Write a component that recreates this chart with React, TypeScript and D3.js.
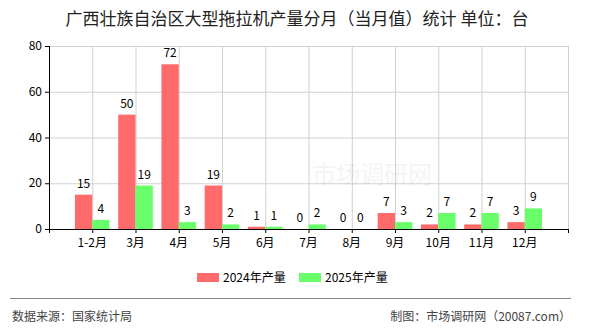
import React from "react";
import * as d3 from "d3";

const CATEGORIES = ["1-2月", "3月", "4月", "5月", "6月", "7月", "8月", "9月", "10月", "11月", "12月"];
const PROD_2024 = [15, 50, 72, 19, 1, 0, 0, 7, 2, 2, 3];
const PROD_2025 = [4, 19, 3, 2, 1, 2, 0, 3, 7, 7, 9];
const Y_TICKS = [0, 20, 40, 60, 80];
const SERIES = [
  { name: "2024年产量", color: "#ff6a6a", values: PROD_2024 },
  { name: "2025年产量", color: "#6aff6a", values: PROD_2025 },
];

const W = 590;
const H = 330;
const M = { top: 46, right: 22, bottom: 101, left: 49 };
const FONT = "'Noto Sans CJK SC', 'DejaVu Sans', sans-serif";

const App: React.FC = () => {
  const x0 = M.left;
  const x1 = W - M.right;
  const yTop = M.top;
  const yBot = H - M.bottom;

  const x = d3.scalePoint<string>().domain(CATEGORIES).range([x0, x1]).padding(1);
  const y = d3.scaleLinear().domain([0, 80]).range([yBot, yTop]);
  const step = x.step();
  const barW = step * 0.4;

  return (
    <div style={{ position: "absolute", left: 0, top: 0 }}>
      <svg width={W} height={H} style={{ display: "block", fontFamily: FONT }}>
        <rect width={W} height={H} fill="#fff" />
        <text x={297} y={25} textAnchor="middle" fontSize={17} fill="#222">
          广西壮族自治区大型拖拉机产量分月（当月值）统计 单位：台
        </text>

        {/* grid */}
        {Y_TICKS.filter(t => t > 0).map(t => (
          <line key={`gy${t}`} x1={x0} x2={x1} y1={y(t) + 0.5} y2={y(t) + 0.5} stroke="#d0d0d0" />
        ))}
        {CATEGORIES.map(c => (
          <line key={`gx${c}`} x1={x(c)! + 0.5} x2={x(c)! + 0.5} y1={yTop} y2={yBot} stroke="#d0d0d0" />
        ))}
        <line x1={x1 + 0.5} x2={x1 + 0.5} y1={yTop} y2={yBot} stroke="#d0d0d0" />

        {/* watermark */}
        <text x={372} y={183} textAnchor="middle" fontSize={24} fill="#000" opacity={0.04}>
          市场调研网
        </text>

        {/* bars */}
        {SERIES.map((s, si) =>
          s.values.map((v, i) => {
            const cx = x(CATEGORIES[i])!;
            const bx = si === 0 ? cx - barW : cx;
            return (
              <g key={`${si}-${i}`}>
                <rect x={bx} y={y(v)} width={barW} height={yBot - y(v)} fill={s.color} />
                <text x={bx + barW / 2} y={y(v) - 7} textAnchor="middle" fontSize={12} fill="#000">
                  {v}
                </text>
              </g>
            );
          })
        )}

        {/* axes */}
        <line x1={x0 + 0.5} x2={x0 + 0.5} y1={yTop} y2={yBot + 4} stroke="#000" />
        <line x1={x0} x2={x1 + 1} y1={yBot + 0.5} y2={yBot + 0.5} stroke="#000" />
        <line x1={x1 + 0.5} x2={x1 + 0.5} y1={yBot} y2={yBot + 4} stroke="#000" />
        {Y_TICKS.map(t => (
          <g key={`yt${t}`}>
            <line x1={x0 - 4} x2={x0} y1={y(t) + 0.5} y2={y(t) + 0.5} stroke="#000" />
            <text x={x0 - 7} y={y(t) + 4} textAnchor="end" fontSize={12} fill="#000">
              {t}
            </text>
          </g>
        ))}
        {CATEGORIES.map(c => (
          <g key={`xt${c}`}>
            <line x1={x(c)! + 0.5} x2={x(c)! + 0.5} y1={yBot} y2={yBot + 4} stroke="#000" />
            <text x={x(c)!} y={yBot + 18} textAnchor="middle" fontSize={12} fill="#000">
              {c}
            </text>
          </g>
        ))}

        {/* legend */}
        {SERIES.map((s, si) => {
          const lx = 197 + si * 102;
          return (
            <g key={`lg${si}`}>
              <rect x={lx} y={273} width={22} height={9} fill={s.color} />
              <text x={lx + 26} y={282} fontSize={12} fill="#000">
                {s.name}
              </text>
            </g>
          );
        })}

        {/* footer */}
        <line x1={10} x2={571} y1={298.5} y2={298.5} stroke="#888" />
        <text x={12} y={321} fontSize={12} fill="#444">
          数据来源：国家统计局
        </text>
        <text x={571} y={321} textAnchor="end" fontSize={12} fill="#444">
          制图：市场调研网（20087.com）
        </text>
      </svg>
    </div>
  );
};

export default App;
